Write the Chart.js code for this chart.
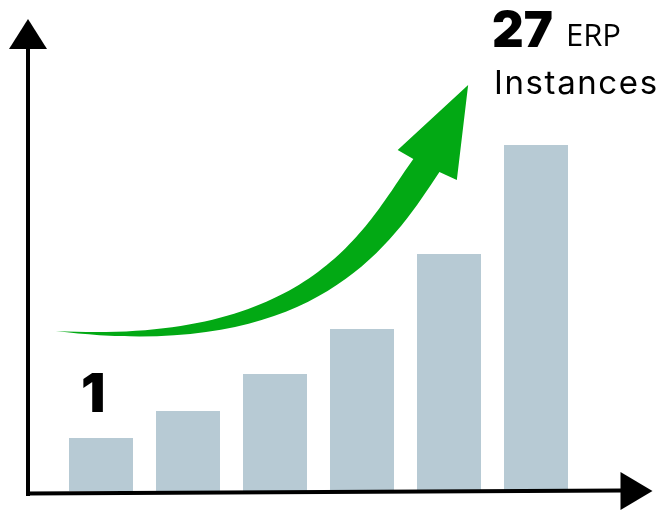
<!DOCTYPE html>
<html>
<head>
<meta charset="utf-8">
<script src="https://cdn.jsdelivr.net/npm/chart.js@4.4.1/dist/chart.umd.min.js"></script>
<style>
  body { margin: 0; background: #ffffff; }
</style>
</head>
<body>
<canvas id="myChart" width="663" height="511"></canvas>
<script>
// data (bar heights in arbitrary units)
var stages = ['1', '2', '3', '4', '5', '6'];
var instances = [53, 80, 117, 162, 237, 346];
var yMax = 450;

var startLabel = '1';
var endCount = '27';
var endUnit = 'ERP';
var endLine2 = 'Instances';

var barColor = '#b7cad4';
var arrowGreen = '#02a914';

var decorations = {
    id: 'decorations',
    afterDatasetsDraw: function(chart){
        var ctx = chart.ctx;
        var ca = chart.chartArea;
        var xs = chart.scales.x;
        var ys = chart.scales.y;
        // (category index, value) -> pixels
        var P = function(i, v){ return [xs.getPixelForValue(i), ys.getPixelForValue(v)] };

        // growth arrow: two cubic edges plus the head
        var t0 = P(-0.52, 160), t1 = P(2.47, 146), t2 = P(3.05, 267), t3 = P(3.59, 332);
        var head = [P(3.41, 341), P(4.22, 406), P(4.09, 311), P(3.89, 319)];
        var b1 = P(3.32, 244), b2 = P(2.47, 128);
        ctx.save();
        ctx.fillStyle = arrowGreen;
        ctx.beginPath();
        ctx.moveTo(t0[0], t0[1]);
        ctx.bezierCurveTo(t1[0], t1[1], t2[0], t2[1], t3[0], t3[1]);
        head.forEach(function(p){ ctx.lineTo(p[0], p[1]) });
        ctx.bezierCurveTo(b1[0], b1[1], b2[0], b2[1], t0[0], t0[1]);
        ctx.closePath();
        ctx.fill();

        // axes with arrow heads
        ctx.strokeStyle = '#000';
        ctx.fillStyle = '#000';
        ctx.lineWidth = 4;
        var ax = ca.left - 29.5;
        ctx.beginPath();
        ctx.moveTo(ax, ca.top + 8);
        ctx.lineTo(ax, ca.bottom + 5);
        ctx.stroke();
        ctx.beginPath();
        ctx.moveTo(ax, ca.top - 22);
        ctx.lineTo(ax - 19, ca.top + 8);
        ctx.lineTo(ax + 19, ca.top + 8);
        ctx.closePath();
        ctx.fill();

        ctx.beginPath();
        ctx.moveTo(ax - 2, ca.bottom + 2.5);
        ctx.lineTo(ca.right + 43, ca.bottom - 0.5);
        ctx.stroke();
        ctx.beginPath();
        ctx.moveTo(ca.right + 41, ca.bottom - 19);
        ctx.lineTo(ca.right + 73, ca.bottom);
        ctx.lineTo(ca.right + 41, ca.bottom + 19);
        ctx.closePath();
        ctx.fill();

        // labels
        var bars = chart.getDatasetMeta(0).data;
        var first = bars[0];
        var last = bars[bars.length - 1];
        ctx.textAlign = 'left';
        ctx.textBaseline = 'alphabetic';
        ctx.font = '900 54px Inter';
        ctx.fillText(startLabel, first.x - 20, first.y - 26);
        ctx.font = '900 49px Inter';
        ctx.fillText(endCount, last.x - 44, ca.top + 6);
        ctx.font = '400 31px "Open Sans"';
        ctx.fillText(endUnit, last.x + 30, ca.top + 5);
        ctx.font = '400 33px Inter';
        ctx.letterSpacing = '1.6px';
        ctx.fillText(endLine2, last.x - 42, ca.top + 53);
        ctx.restore();
    }
};

var myChart = new Chart(document.getElementById('myChart').getContext('2d'), {
    type: 'bar',
    data: {
        labels: stages,
        datasets: [{
            label: 'ERP instances',
            data: instances,
            backgroundColor: barColor,
            borderWidth: 0,
            barPercentage: 64 / 87,
            categoryPercentage: 1
        }]
    },
    options: {
        responsive: false,
        animation: false,
        layout: {
            padding: { left: 57.5, right: 83.5, top: 41, bottom: 20 }
        },
        scales: {
            x: { display: false, offset: true },
            y: { display: false, min: 0, max: yMax }
        },
        plugins: {
            legend: { display: false },
            tooltip: { enabled: false }
        }
    },
    plugins: [decorations]
});
</script>
</body>
</html>
